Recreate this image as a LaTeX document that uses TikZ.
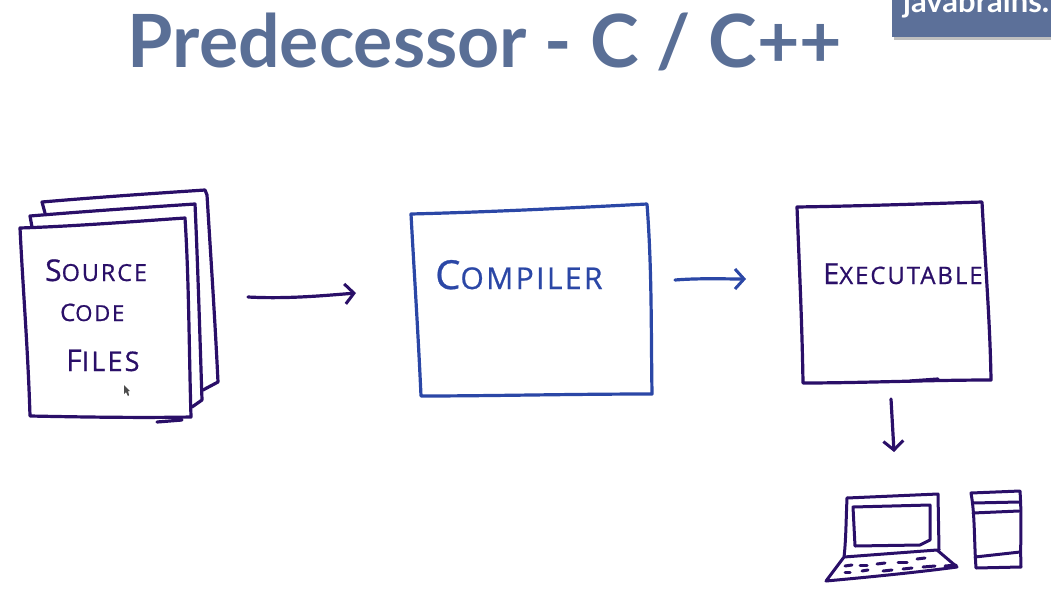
\documentclass[tikz,border=0pt]{standalone}
\usepackage{fontspec}
\setmainfont{Lato}
\newfontfamily\handfont[LetterSpace=8,FakeBold=0.7]{Open Sans}
\usetikzlibrary{arrows.meta}
\definecolor{titleblue}{HTML}{5A6F96}
\definecolor{badgeblue}{HTML}{5C7099}
\definecolor{inkdark}{HTML}{2A0F68}
\definecolor{inkblue}{HTML}{2B47A6}
\tikzset{
    sketch/.style={draw=inkdark, line width=3.2pt, line cap=round, line join=round},
    sketchblue/.style={sketch, draw=inkblue},
    thinsketch/.style={sketch, line width=3pt},
    handlabel/.style={text=inkdark, font=\handfont, inner sep=0pt, anchor=base west},
    handarrow/.style={sketch, -{Straight Barb[length=9pt,width=20pt,line width=3pt]}},
}
\begin{document}
\begin{tikzpicture}[x=1pt,y=-1pt]
        \useasboundingbox (0,0) rectangle (1051,594);

        % Title and badge
        \node[text=titleblue, font=\bfseries\fontsize{73.4}{74}\selectfont, anchor=base, inner sep=0pt] (title) at (485,67) {Predecessor - C / C++};
        \fill[black!25] (894,0) rectangle (1051,40);
        \fill[badgeblue] (892,0) rectangle (1051,37);
        \begin{scope}
            \clip (892,0) rectangle (1051,37);
            \node[text=white, font=\bfseries\fontsize{31}{31}\selectfont, anchor=base west, inner sep=0pt] (badge) at (903,13) {javabrains.};
        \end{scope}

        % Pages of source files
        \draw[sketch] (45,213) -- (42,202) .. controls (100,197) and (160,193) .. (205,190) -- (207,195) .. controls (211,260) and (215,320) .. (218,382) -- (203,390);
        \draw[sketch] (32,227) -- (30,216) .. controls (90,211) and (150,207) .. (195,204) .. controls (198,270) and (200,340) .. (202,400) -- (192,407);
        \draw[sketch] (20,228) .. controls (80,226) and (140,221) .. (185,218) .. controls (189,280) and (189,350) .. (191,417) .. controls (140,418) and (80,417) .. (30,416) .. controls (28,350) and (23,290) .. (20,228) -- cycle;
        \draw[sketch] (157,422) -- (182,420);
        \node[handlabel] (source) at (45,281) {\fontsize{23.5}{24}\selectfont{\fontsize{30}{30}\selectfont S}OURCE};
        \node[handlabel] (code) at (60,321) {\fontsize{22}{22}\selectfont{\fontsize{24}{24}\selectfont C}ODE};
        \node[handlabel] (files) at (66,371) {\fontsize{27}{27}\selectfont{\fontsize{30}{30}\selectfont F}ILES};
        \fill[black!70] (124,385) -- (124,394) -- (126,392) -- (128,396) -- (129,395) -- (128,391) -- (130,391) -- cycle;

        % Compiler box
        \draw[sketchblue] (411,214) .. controls (490,212) and (570,208) .. (647,204) .. controls (652,270) and (651,330) .. (652,394) .. controls (570,394) and (490,396) .. (421,396) .. controls (418,330) and (414,270) .. (411,214) -- cycle;
        \node[handlabel, text=inkblue] (compiler) at (435,289) {\fontsize{30}{30}\selectfont{\fontsize{40}{40}\selectfont C}OMPILER};

        % Executable box
        \draw[sketch] (797,207) .. controls (860,206) and (920,204) .. (982,202) .. controls (985,260) and (990,320) .. (991,380) .. controls (930,380) and (860,383) .. (803,383) .. controls (802,320) and (799,260) .. (797,207) -- cycle;
        \draw[sketch] (910,381) -- (938,379);
        \node[handlabel] (executable) at (823,284) {\fontsize{24}{24}\selectfont{\fontsize{29}{29}\selectfont E}XECUTABLE};

        % Connector ends
        \coordinate (srcout) at (248,297);
        \coordinate (cmpin) at (356,293);
        \coordinate (cmpout) at (675,280);
        \coordinate (exein) at (746,279);
        \coordinate (exeout) at (891,399);
        \coordinate (devin) at (894,452);

        \draw[handarrow] (srcout) .. controls (285,299) and (320,296) .. (cmpin);
        \draw[handarrow, draw=inkblue] (cmpout) .. controls (700,278) and (725,279) .. (exein);
        \draw[handarrow] (exeout) -- (devin);

        % Laptop
        \draw[thinsketch] (847,498) -- (938,494) -- (939,550);
        \draw[thinsketch] (847,498) .. controls (846,520) and (846,540) .. (844,557) -- (937,550) -- (957,567) .. controls (920,572) and (870,577) .. (826,581) -- (844,557);
        \draw[thinsketch] (853,507) -- (930,505) -- (930,540) -- (920,545) -- (855,546) -- cycle;
        \foreach \xa/\xb/\ya/\yb in {845/852/566/565, 860/867/565/565, 877/885/564/563, 898/907/562/562, 917/925/559/558,
                                     845/850/572/572, 862/868/571/570, 883/892/571/570, 903/912/569/568, 923/935/567/566}
            \draw[thinsketch] (\xa,\ya) -- (\xb,\yb);
        \draw[thinsketch] (945,566) -- (956,565);

        % Tower
        \draw[thinsketch] (971,493) -- (1020,491) .. controls (1022,520) and (1020,545) .. (1021,567) -- (976,568) .. controls (974,540) and (975,515) .. (971,493) -- cycle;
        \draw[thinsketch] (973,503) -- (1019,502);
        \draw[thinsketch] (973,513) -- (1019,511);
        \draw[thinsketch] (975,557) -- (1020,552);
\end{tikzpicture}
\end{document}
